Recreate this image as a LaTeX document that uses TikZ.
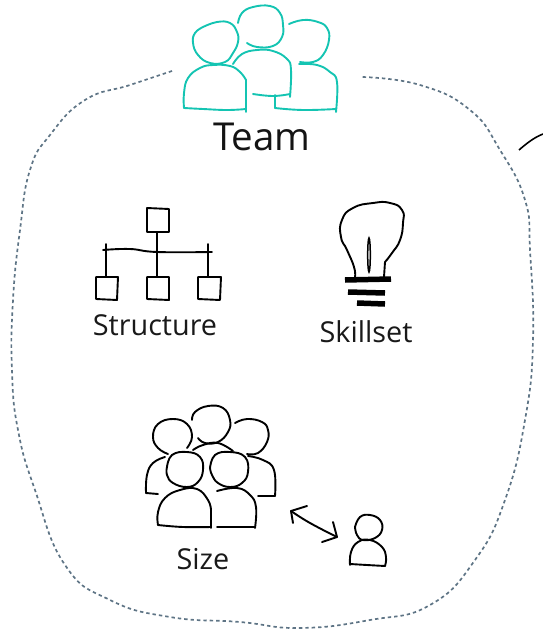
\documentclass[tikz,border=0pt]{standalone}
\usepackage{fontspec}
\setmainfont{Open Sans}
\definecolor{teamteal}{HTML}{14C4B2}
\definecolor{blobgrey}{HTML}{5E7485}
\tikzset{
  sk/.style={line width=1.9pt,line cap=round,line join=round,black},
  teal/.style={line width=1.9pt,line cap=round,line join=round,teamteal},
  blob/.style={line width=1.7pt,blobgrey,dash pattern=on 3.4pt off 3pt},
  bar/.style={line width=5.5pt,black},
  lab/.style={inner sep=0pt,text=black!90,font=\fontsize{28.8}{31}\selectfont},
  sm/.style={smooth,tension=0.75}
}
\begin{document}
\begin{tikzpicture}[x=1pt,y=-1pt]
\useasboundingbox (0,0) rectangle (543,632);
% boundary
\draw[blob] plot[smooth,tension=0.8] coordinates {(172,71)(130,85)(85,100)(50,135)(30,170)(20,230)(13,300)(12,370)(18,430)(35,490)(65,565)(110,600)(170,617)(240,622)(300,628)(370,620)(430,605)(475,560)(505,500)(525,420)(533,340)(530,250)(525,200)(500,150)(470,110)(420,85)(362,77)};
\draw[line width=1.6pt,black] (519,150) .. controls (527,143) and (535,137) .. (543,134);
% team
\draw[teal] plot[sm] coordinates {(203,27)(217,22)(230,23)(237,32)(238,42)(233,53)(225,62)(210,63)(198,55)(193,43)(195,33)(203,27)};
\draw[teal] plot[sm] coordinates {(184,108)(184,93)(188,78)(200,68)(213,65)(230,66)(240,72)(246,80)};
\draw[teal] (246,80) -- (246,112);
\draw[teal] plot[sm] coordinates {(184,108)(203,109)(227,110)(246,109)};
\draw[teal] plot[sm] coordinates {(238,23)(242,13)(253,7)(270,6)(280,13)(283,25)(282,37)(273,46)(257,47)(247,43)};
\draw[teal] plot[sm] coordinates {(233,64)(242,54)(257,50)(273,51)(287,59)(291,70)(290,97)};
\draw[teal] plot[sm] coordinates {(253,94)(273,96)(290,94)};
\draw[teal] plot[sm] coordinates {(289,24)(303,20)(318,22)(327,28)(329,40)(323,55)(313,62)(300,62)};
\draw[teal] plot[sm] coordinates {(299,64)(317,65)(330,72)(337,82)(336,112)};
\draw[teal] (275,95) -- (275,108);
\draw[teal] plot[sm] coordinates {(275,108)(303,110)(336,109)};
\node[lab,font=\fontsize{38.5}{41}\selectfont,text=black!92] (team) at (262,137) {Team};
% structure
\draw[sk] (147,208) -- (169,209) -- (169,232) -- (147,232) -- cycle;
\draw[sk] plot[sm] coordinates {(103,250)(130,249)(157,252)(212,252)};
\draw[sk] (157,232) -- (157,277);
\draw[sk] (106,244) -- (106,277);
\draw[sk] (208,244) -- (208,277);
\draw[sk] (96,277) -- (118,277) -- (117,300) -- (96,299) -- cycle;
\draw[sk] (147,277) -- (169,277) -- (169,300) -- (147,299) -- cycle;
\draw[sk] (198,277) -- (221,277) -- (220,300) -- (198,299) -- cycle;
\node[lab] (structure) at (155,325) {Structure};
% bulb
\draw[sk] plot[smooth,tension=0.9] coordinates {(355,277)(354,267)(347,250)(341,237)(342,220)(353,208)(373,203)(390,203)(402,210)(403,223)(400,240)(392,253)(385,262)};
\draw[sk] (385,262) -- (384,277);
\draw[line width=1.5pt,black] (369,255) ellipse [x radius=1.3,y radius=17];
\draw[bar] (345,280) -- (391,279);
\draw[bar] (348,292) -- (385,293);
\draw[bar] (357,303) -- (385,304);
\node[lab] (skillset) at (366,332) {Skillset};
% size
\draw[sk] plot[sm] coordinates {(168,454)(158,448)(153,437)(158,424)(173,419)(187,424)(192,437)(187,448)};
\draw[sk] plot[sm] coordinates {(192,420)(195,412)(208,406)(223,408)(230,420)(228,432)(218,442)(205,443)(198,438)};
\draw[sk] plot[sm] coordinates {(235,423)(247,419)(262,422)(268,430)(267,442)(258,453)(247,454)};
\draw[sk] plot[sm] coordinates {(165,457)(153,463)(147,475)(146,493)};
\draw[sk] (146,493) -- (158,494);
\draw[sk] plot[sm] coordinates {(193,450)(203,445)(218,443)(233,451)};
\draw[sk] plot[sm] coordinates {(248,456)(263,460)(274,470)(275,496)};
\draw[sk] (275,496) -- (258,496);
\draw[sk] plot[sm] coordinates {(167,467)(172,455)(187,452)(200,457)(203,470)(198,482)(187,487)(173,483)(167,475)(167,467)};
\draw[sk] plot[sm] coordinates {(210,468)(215,455)(230,452)(245,457)(248,472)(242,483)(230,487)(218,483)(212,475)(210,468)};
\draw[sk] plot[sm] coordinates {(158,525)(158,512)(165,498)(180,490)(197,489)(208,500)(211,510)};
\draw[sk] (211,510) -- (211,528);
\draw[sk] plot[sm] coordinates {(158,525)(183,527)(211,527)};
\draw[sk] plot[sm] coordinates {(217,491)(237,488)(250,495)(256,507)(255,528)};
\draw[sk] (217,527) -- (255,527);
\node[lab] (size) at (203,559) {Size};
% double arrow
\coordinate (arrA) at (291,511);
\coordinate (arrB) at (337,537);
\draw[sk] plot[sm] coordinates {(arrA)(310,523)(arrB)};
\draw[sk] (307,506) -- (arrA) -- (293,523);
\draw[sk] (333,522) -- (arrB) -- (322,542);
% single person
\draw[sk] plot[sm] coordinates {(355,527)(360,517)(370,515)(380,520)(382,530)(375,538)(363,540)(357,535)(355,527)};
\draw[sk] plot[sm] coordinates {(350,565)(351,552)(358,542)(370,540)(382,547)(386,557)(385,566)};
\draw[sk] plot[sm] coordinates {(350,564)(367,565)(385,566)};
\end{tikzpicture}
\end{document}
